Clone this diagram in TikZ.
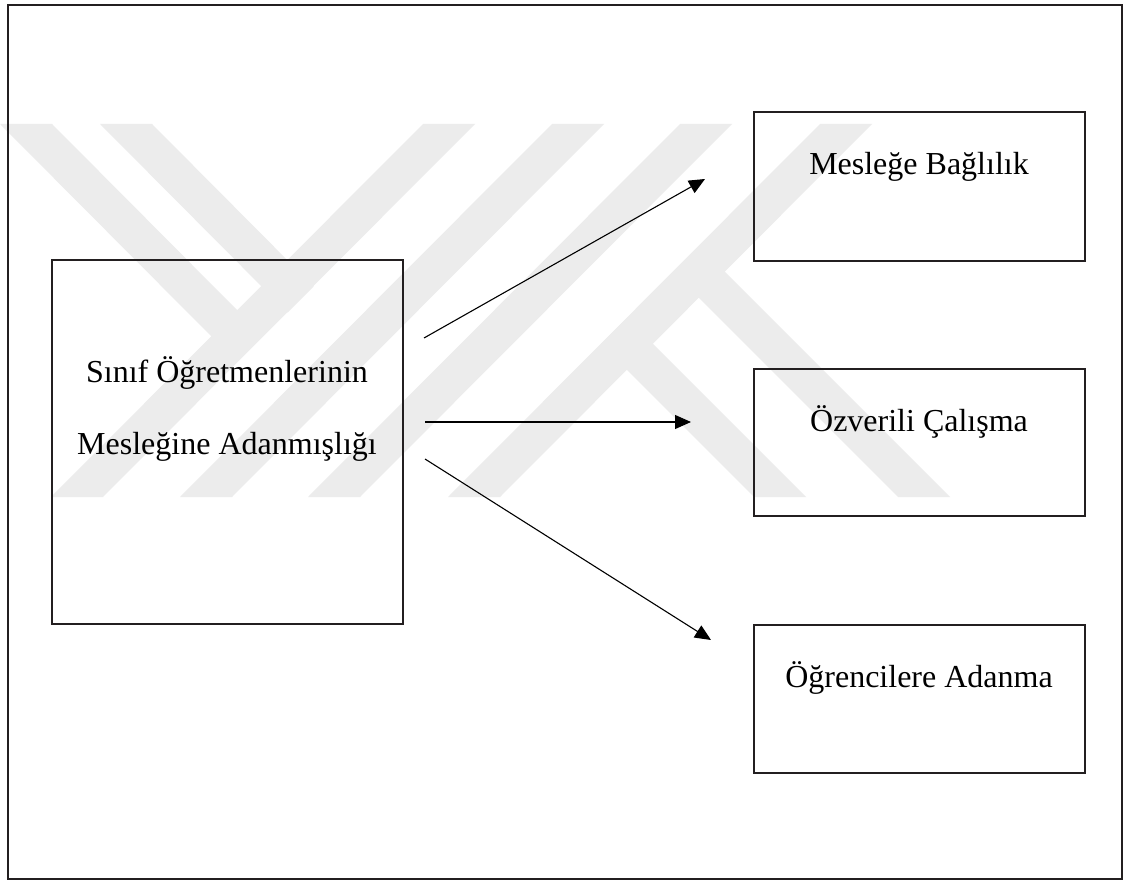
\documentclass[tikz,border=0pt]{standalone}
\usepackage{fontspec}
\setmainfont{Liberation Serif}
\usetikzlibrary{arrows.meta}
\definecolor{ink}{HTML}{231F20}
\definecolor{mark}{HTML}{ECECEC}
\begin{document}
\begin{tikzpicture}[x=1pt,y=-1pt,
  frame/.style={draw=ink,line width=2.2pt},
  box/.style={draw=ink,line width=1.6pt,rectangle,inner sep=0pt},
  lbl/.style={font=\fontsize{32}{38}\selectfont,anchor=base,inner sep=0pt},
  link/.style={line width=1.1pt,-{Triangle[length=16pt,width=14pt]}},
  band/.style={fill=mark,draw=none}]
\useasboundingbox (0,0) rectangle (1125,882);
\fill[white] (0,0) rectangle (1125,882);

% light background emblem made of diagonal bands
% rising strokes
\fill[band] (423,124) -- (475,124) -- (103,497) -- (51,497) -- cycle;
\fill[band] (552,124) -- (604,124) -- (232,497) -- (180,497) -- cycle;
\fill[band] (680,124) -- (732,124) -- (360,497) -- (308,497) -- cycle;
\fill[band] (820,124) -- (872,124) -- (500,497) -- (448,497) -- cycle;
% left arms of the y
\fill[band] (0,124) -- (52,124) -- (237.5,310.5) -- (211.5,336.5) -- cycle;
\fill[band] (100,124) -- (152,124) -- (313.5,286.5) -- (287.5,312.5) -- cycle;
% legs of the K
\fill[band] (601,344) -- (627,318) -- (806,497) -- (754,497) -- cycle;
\fill[band] (673,272) -- (699,246) -- (950,497) -- (898,497) -- cycle;

% outer frame
\draw[frame] (8,5) rectangle (1122,879);

% boxes
\node[box,minimum width=351pt,minimum height=364pt] (src) at (227.5,442) {};
\node[box,minimum width=331pt,minimum height=149pt] (b1) at (919.5,186.5) {};
\node[box,minimum width=331pt,minimum height=147pt] (b2) at (919.5,442.5) {};
\node[box,minimum width=331pt,minimum height=148pt] (b3) at (919.5,699) {};

% labels
\node[lbl] (src1) at (227,383) {Sınıf Öğretmenlerinin};
\node[lbl] (src2) at (227,455) {Mesleğine Adanmışlığı};
\node[lbl] (t1) at (919,175) {Mesleğe Bağlılık};
\node[lbl] (t2) at (919,432) {Özverili Çalışma};
\node[lbl] (t3) at (919,687) {Öğrencilere Adanma};

% arrows
\coordinate (s1) at (424,338);
\coordinate (e1) at (705,179);
\coordinate (s2) at (425,422);
\coordinate (e2) at (691,422);
\coordinate (s3) at (425,459);
\coordinate (e3) at (711,640);
\draw[link] (s1) -- (e1);
\draw[link] (s2) -- (e2);
\draw[link] (s3) -- (e3);
\end{tikzpicture}
\end{document}
